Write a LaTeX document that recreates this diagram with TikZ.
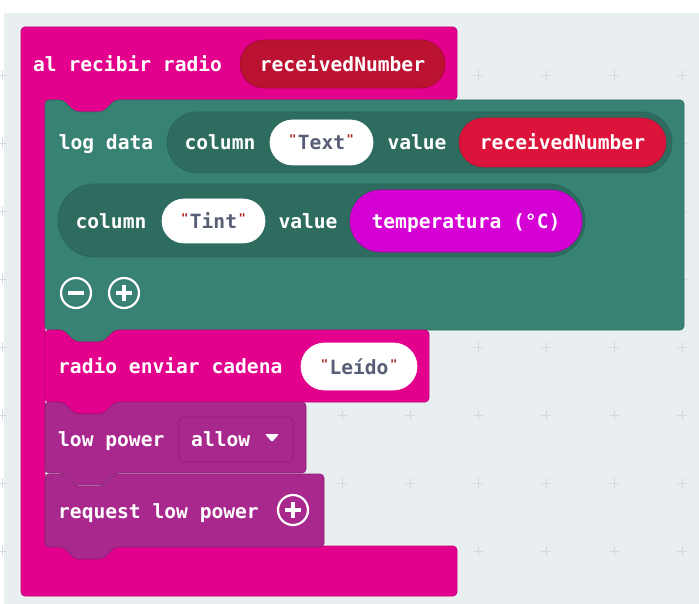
\documentclass[tikz,border=0pt]{standalone}
\usepackage{fontspec}
\setmonofont{DejaVu Sans Mono}
\usetikzlibrary{shapes.misc}
\definecolor{bgrey}{HTML}{E9EEF0}
\definecolor{gridc}{HTML}{D3D9DC}
\definecolor{radiopink}{HTML}{E3008C}
\definecolor{radioedge}{HTML}{C2007A}
\definecolor{loggreen}{HTML}{378273}
\definecolor{logedge}{HTML}{2F6F62}
\definecolor{slotgreen}{HTML}{2E6C5F}
\definecolor{slotedge}{HTML}{2A6357}
\definecolor{powerpurple}{HTML}{A9288E}
\definecolor{poweredge}{HTML}{8D1F76}
\definecolor{paramred}{HTML}{BC1232}
\definecolor{paramedge}{HTML}{A10E2A}
\definecolor{varred}{HTML}{DC143C}
\definecolor{varedge}{HTML}{BA1133}
\definecolor{tempmag}{HTML}{D400D4}
\definecolor{tempedge}{HTML}{B000B0}
\definecolor{strgrey}{HTML}{575E75}
\definecolor{qred}{HTML}{B01818}
\newcommand\qt[1]{\textcolor{qred}{\raisebox{6pt}{\fontsize{12}{12}\selectfont"}}\kern1.5pt#1\kern1.5pt\textcolor{qred}{\raisebox{6pt}{\fontsize{12}{12}\selectfont"}}}
\newcommand\stmtblock[6]{%
  \filldraw[fill=#1,draw=#2,line width=.7pt,rounded corners=4pt]
    (#3,#4) -- ({#3+18},#4) -- ({#3+30},{#4+12}) -- ({#3+58},{#4+12}) -- ({#3+70},#4)
    -- (#5,#4) -- (#5,#6) -- ({#3+70},#6) -- ({#3+58},{#6+12}) -- ({#3+30},{#6+12})
    -- ({#3+18},#6) -- (#3,#6) -- cycle;}
\begin{document}
\begin{tikzpicture}[x=1pt,y=-1pt,font=\ttfamily\bfseries\fontsize{19.6}{20}\selectfont,
  lbl/.style={text=white,text height=19pt,text depth=4pt,inner sep=0pt},
  pill/.style={rounded rectangle,inner sep=0pt,line width=.7pt,text height=19pt,text depth=4pt},
  strpill/.style={pill,fill=white,draw=white,text=strgrey,minimum height=45pt},
  roundbtn/.style={circle,draw=white,line width=2.2pt,minimum size=30pt,inner sep=0pt}]
  \useasboundingbox (0,0) rectangle (699,604);
  \fill[white] (0,0) rectangle (699,604);
  \fill[bgrey] (4,13) rectangle (699,604);
  \foreach \gx in {2,70,...,682}
    \foreach \gy in {75,143,...,551}
      \draw[gridc,line width=.8pt] (\gx-5,\gy) -- (\gx+5,\gy) (\gx,\gy-5) -- (\gx,\gy+5);
  \filldraw[fill=radiopink,draw=radioedge,line width=.7pt,rounded corners=4pt]
    (21,27) -- (457,27) -- (457,100) -- (115,100) -- (103,112) -- (75,112) -- (63,100)
    -- (45,100) -- (45,546) -- (457,546) -- (457,596) -- (21,596) -- cycle;
  \node[lbl,anchor=west] (evt) at (33,64) {al recibir radio};
  \node[pill,fill=paramred,draw=paramedge,minimum width=205pt,minimum height=48pt,text=white] (prm) at (342.5,64) {receivedNumber};
  \stmtblock{loggreen}{logedge}{45}{100}{684}{330}
  \node[lbl] (logd) at (106,142) {log data};
  \node[pill,fill=slotgreen,draw=slotedge,minimum width=505pt,minimum height=61pt] (slota) at (419.5,142.5) {};
  \node[lbl] (cola) at (220,142) {column};
  \node[strpill,minimum width=103pt] (txt) at (321.5,142.5) {\qt{Text}};
  \node[lbl] (vala) at (417,142) {value};
  \node[pill,fill=varred,draw=varedge,minimum width=207pt,minimum height=49pt,text=white] (rnum) at (562.5,142.5) {receivedNumber};
  \node[pill,fill=slotgreen,draw=slotedge,minimum width=527pt,minimum height=73pt] (slotb) at (321.5,220.5) {};
  \node[lbl] (colb) at (111,221) {column};
  \node[strpill,minimum width=103pt,minimum height=44pt] (tint) at (213.5,221) {\qt{Tint}};
  \node[lbl] (valb) at (308,221) {value};
  \node[pill,fill=tempmag,draw=tempedge,minimum width=232pt,minimum height=62pt,text=white] (temp) at (466,221) {temperatura (°C)};
  \node[roundbtn] (minus) at (76,293) {};
  \draw[white,line width=3.5pt] (minus.center) ++(-8,0) -- ++(16,0);
  \node[roundbtn] (plus) at (124,293) {};
  \draw[white,line width=3.5pt] (plus.center) ++(-8,0) -- ++(16,0) (plus.center) ++(0,-8) -- ++(0,16);
  \stmtblock{radiopink}{radioedge}{45}{330}{429}{402}
  \node[lbl,anchor=west] (send) at (58,366) {radio enviar cadena};
  \node[strpill,minimum width=116pt,minimum height=47pt] (leido) at (359,366.5) {\qt{Leído}};
  \stmtblock{powerpurple}{poweredge}{45}{402}{306}{473}
  \node[lbl,anchor=west] (lowp) at (58,439) {low power};
  \node[draw=poweredge,fill=powerpurple,line width=.7pt,rounded corners=5pt,minimum width=114pt,minimum height=45pt] (drop) at (236,439.5) {};
  \node[lbl,anchor=west] (allow) at (191,439) {allow};
  \fill[white,rounded corners=1pt] (265,434) -- (279,434) -- (272,442) -- cycle;
  \stmtblock{powerpurple}{poweredge}{45}{474}{324}{547}
  \node[lbl,anchor=west] (req) at (58,511) {request low power};
  \node[roundbtn] (reqplus) at (293,510) {};
  \draw[white,line width=3.5pt] (reqplus.center) ++(-8,0) -- ++(16,0) (reqplus.center) ++(0,-8) -- ++(0,16);
\end{tikzpicture}
\end{document}
